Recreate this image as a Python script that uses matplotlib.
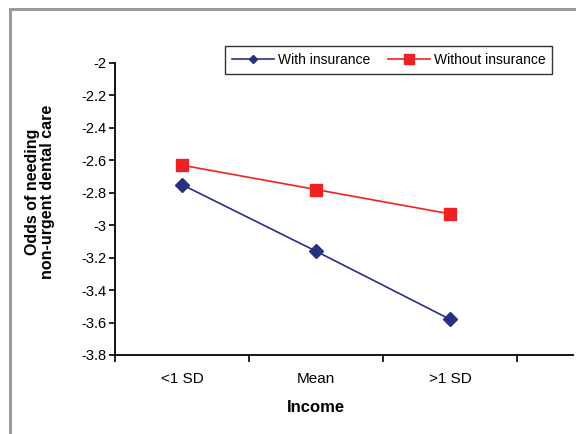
import matplotlib
matplotlib.use('Agg')
import matplotlib.pyplot as plt
from matplotlib.patches import Rectangle
from matplotlib.lines import Line2D

# data
categorias = ['<1 SD', 'Mean', '>1 SD']
com_seguro = [-2.75, -3.16, -3.58]
sem_seguro = [-2.63, -2.78, -2.93]
y_ticks = [-2, -2.2, -2.4, -2.6, -2.8, -3, -3.2, -3.4, -3.6, -3.8]

azul = '#283080'
vermelho = '#EE2222'

plt.rcParams['font.family'] = ['Liberation Sans', 'DejaVu Sans']
plt.rcParams['axes.unicode_minus'] = False

fig = plt.figure(figsize=(5.76, 4.34), dpi=100)

# moldura cinza externa (cortada a direita e embaixo)
fig.patches.append(Rectangle((10 / 576, -0.1), 1.2, 1 - 9 / 434 + 0.1,
                             transform=fig.transFigure, fill=False,
                             edgecolor='#9a9a9a', linewidth=2.2))

ax = fig.add_axes([115 / 576, 1 - 355 / 434, (573 - 115) / 576, (355 - 63) / 434])

x = list(range(len(categorias)))
ax.plot(x, com_seguro, color=azul, marker='D', markersize=7.5, linewidth=1.2)
ax.plot(x, sem_seguro, color=vermelho, marker='s', markersize=9, linewidth=1.2)

ax.set_ylim(-3.8, -2)
ax.set_yticks(y_ticks)
ax.set_yticklabels([f'{v:g}' for v in y_ticks], fontsize=10.5)

ax.set_xlim(-0.5, -0.5 + 458 / 134)
ax.set_xticks([-0.5, 0.5, 1.5, 2.5])
ax.set_xticklabels([])
ax.set_xticks(x, minor=True)
ax.set_xticklabels(categorias, minor=True, fontsize=11)
ax.tick_params(axis='x', which='minor', length=0, pad=12)
ax.tick_params(axis='x', which='major', length=5, width=1.2, direction='out')
ax.tick_params(axis='y', length=4, width=1.2, direction='out', pad=2)

for lado in ['top', 'right']:
    ax.spines[lado].set_visible(False)
for lado in ['left', 'bottom']:
    ax.spines[lado].set_linewidth(1.3)

fig.text(316 / 576, 1 - 408 / 434, 'Income', ha='center', va='center',
         fontsize=12, fontweight='bold')
fig.text(0.07, 1 - 192 / 434, 'Odds of needing\nnon-urgent dental care',
         rotation=90, ha='center', va='center', fontsize=11.5,
         fontweight='bold', linespacing=1.0)

# legenda com marcadores menores, como no original
handles = [Line2D([], [], color=azul, marker='D', markersize=4, linewidth=1.2),
           Line2D([], [], color=vermelho, marker='s', markersize=7, linewidth=1.2)]
leg = fig.legend(handles, ['With insurance', 'Without insurance'],
                 loc='upper left', bbox_to_anchor=(225 / 576, 1 - 46 / 434),
                 ncol=2, fontsize=10, frameon=True, fancybox=False,
                 handlelength=3.0, columnspacing=1.3, handletextpad=0.3,
                 borderpad=0.5, borderaxespad=0)
leg.get_frame().set_edgecolor('black')
leg.get_frame().set_linewidth(1.0)

plt.savefig('out.png', dpi=100)
